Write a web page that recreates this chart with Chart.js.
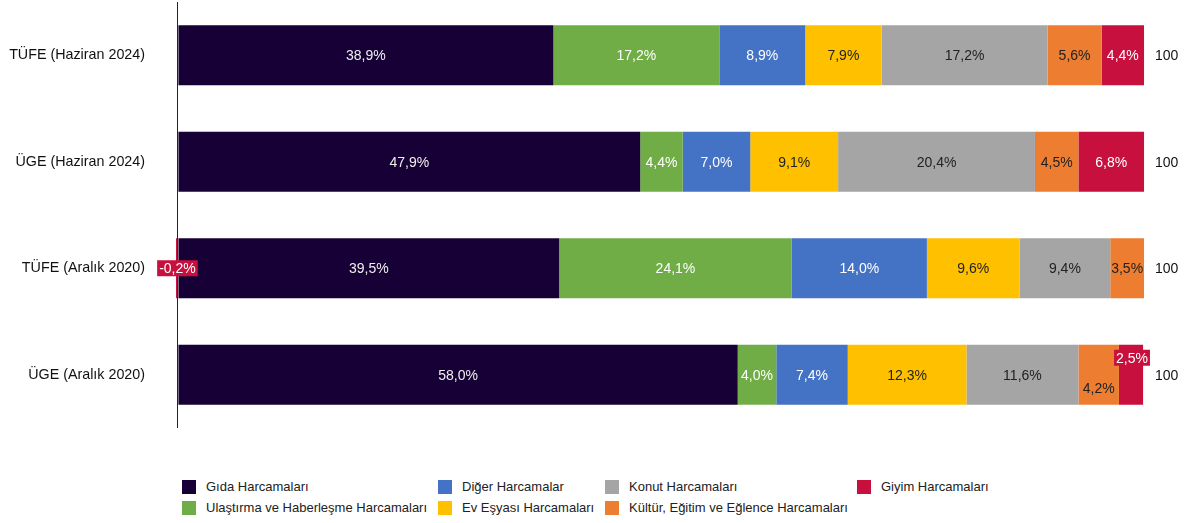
<!DOCTYPE html>
<html>
<head>
<meta charset="utf-8">
<script src="https://cdn.jsdelivr.net/npm/chart.js@4/dist/chart.umd.min.js"></script>
<style>
  body { margin: 0; background: #fff; font-family: "Liberation Sans", Arial, sans-serif; }
  #wrap { position: relative; width: 1189px; height: 440px; }
  #legend { position: absolute; left: 0; top: 479px; width: 1189px; height: 44px; font-size: 13px; color: #222; }
  .item { position: absolute; height: 14px; line-height: 14px; white-space: nowrap; }
  .item span.sw { position: absolute; left: 0; top: 0; width: 14px; height: 14px; }
  .item span.tx { position: absolute; left: 24px; top: 0; }
</style>
</head>
<body>
<div id="wrap"><canvas id="chart"></canvas></div>
<div id="legend"></div>
<script>
const categories = ["TÜFE (Haziran 2024)", "ÜGE (Haziran 2024)", "TÜFE (Aralık 2020)", "ÜGE (Aralık 2020)"];
const gida = [38.9, 47.9, 39.5, 58.0];
const ulastirma = [17.2, 4.4, 24.1, 4.0];
const diger = [8.9, 7.0, 14.0, 7.4];
const evEsyasi = [7.9, 9.1, 9.6, 12.3];
const konut = [17.2, 20.4, 9.4, 11.6];
const kultur = [5.6, 4.5, 3.5, 4.2];
const giyim = [4.4, 6.8, -0.2, 2.5];
const totals = [100, 100, 100, 100];

const seriesNames = ["Gıda Harcamaları", "Ulaştırma ve Haberleşme Harcamaları", "Diğer Harcamalar", "Ev Eşyası Harcamaları",
    "Konut Harcamaları", "Kültür, Eğitim ve Eğlence Harcamaları", "Giyim Harcamaları"];
const seriesValues = [gida, ulastirma, diger, evEsyasi, konut, kultur, giyim];
const colors = ["#170036", "#70AD47", "#4472C4", "#FFC000", "#A5A5A5", "#ED7D31", "#C8103E"];
const textColors = ["#eee", "#fff", "#fff", "#222", "#222", "#222", "#fff"];

// labels that are moved off the bar centre in the original (dataset index, category index)
const labelTweaks = {
    "6-2": { dx: 0, dy: 0, box: true },
    "6-3": { dx: 1, dy: -17, box: true },
    "5-3": { dx: 0, dy: 13, box: false }
};

function fmt(v) {
    return v.toFixed(1).replace(".", ",") + "%";
}

const labelPlugin = {
    id: "barLabels",
    afterDatasetsDraw(chart) {
        const ctx = chart.ctx;
        ctx.save();
        ctx.font = "14px 'Liberation Sans', Arial, sans-serif";
        ctx.textBaseline = "middle";
        ctx.textAlign = "center";
        chart.data.datasets.forEach(function (ds, di) {
            chart.getDatasetMeta(di).data.forEach(function (bar, i) {
                const v = ds.data[i];
                const t = labelTweaks[di + "-" + i];
                let x = (bar.x + bar.base) / 2;
                let y = bar.y;
                if (t) {
                    if (di === 6 && i === 2) x = bar.base;
                    x += t.dx;
                    y += t.dy;
                }
                const txt = fmt(v);
                if (t && t.box) {
                    const w = ctx.measureText(txt).width + 4;
                    ctx.fillStyle = colors[di];
                    ctx.fillRect(x - w / 2, y - 8, w, 16);
                }
                ctx.fillStyle = textColors[di];
                ctx.fillText(txt, x, y + 1);
            });
        });
        // totals at the right
        ctx.fillStyle = "#111";
        ctx.textAlign = "left";
        const meta = chart.getDatasetMeta(0);
        totals.forEach(function (tot, i) {
            ctx.fillText(String(tot), chart.chartArea.right + 10, meta.data[i].y + 1);
        });
        ctx.restore();
    }
};

const ctx = document.getElementById("chart").getContext("2d");
new Chart(ctx, {
    type: "bar",
    data: {
        labels: categories,
        datasets: seriesValues.map(function (vals, k) {
            return {
                label: seriesNames[k],
                data: vals,
                backgroundColor: colors[k],
                borderWidth: 0,
                categoryPercentage: 1,
                barPercentage: 0.5625
            };
        })
    },
    options: {
        indexAxis: "y",
        responsive: true,
        maintainAspectRatio: false,
        animation: false,
        layout: { padding: { top: 2, right: 44, bottom: 12, left: 0 } },
        plugins: { legend: { display: false }, tooltip: { enabled: false } },
        scales: {
            x: {
                stacked: true,
                min: -0.2,
                max: 100.2,
                afterBuildTicks: function (scale) { scale.ticks = [{ value: 0 }]; },
                afterFit: function (scale) { scale.height = 0; scale.paddingLeft = 0; scale.paddingRight = 0; },
                ticks: { display: false },
                grid: { color: "#222", lineWidth: 1, drawTicks: false },
                border: { display: false }
            },
            y: {
                stacked: true,
                afterFit: function (scale) { scale.width = 176; scale.paddingTop = 0; scale.paddingBottom = 0; },
                ticks: { color: "#111", padding: 31, font: { family: "'Liberation Sans', Arial, sans-serif", size: 14.3 } },
                grid: { display: false, drawTicks: false },
                border: { display: false }
            }
        }
    },
    plugins: [labelPlugin]
});

// legend in columns, as in the original
const legendCols = [182, 438, 605, 857];
const legendRows = [480, 501];
const legendEl = document.getElementById("legend");
seriesNames.forEach(function (name, k) {
    const col = Math.floor(k / 2), row = k % 2;
    const d = document.createElement("div");
    d.className = "item";
    d.style.left = legendCols[col] + "px";
    d.style.top = (legendRows[row] - 479) + "px";
    d.innerHTML = '<span class="sw" style="background:' + colors[k] + '"></span><span class="tx">' + name + "</span>";
    legendEl.appendChild(d);
});
</script>
</body>
</html>
